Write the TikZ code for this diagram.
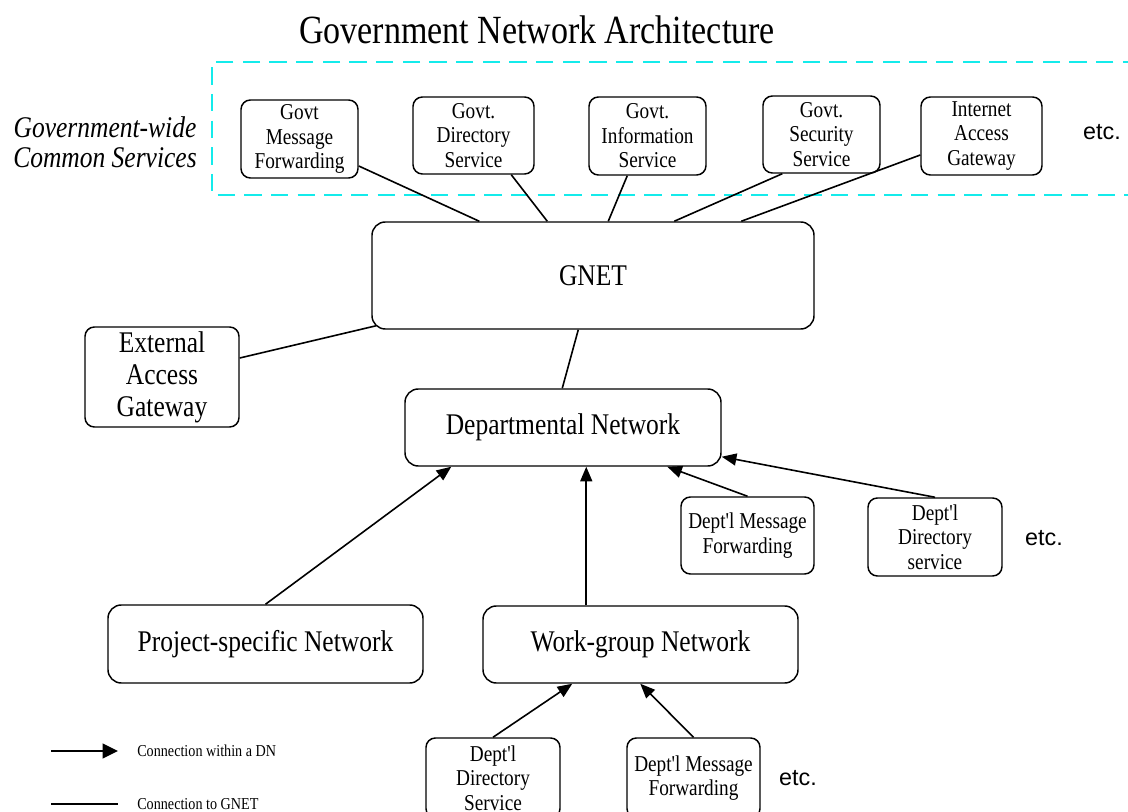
\documentclass[tikz,border=0pt]{standalone}
\usepackage{fontspec}
\setmainfont{Liberation Serif}
\newfontfamily\lab[FakeStretch=0.85]{Liberation Serif}
\newfontfamily\etcfont{Liberation Sans}
\usetikzlibrary{arrows.meta,calc}
\def\px{0.75pt}
\definecolor{dashcyan}{RGB}{20,235,235}
\begin{document}
\begin{tikzpicture}[x=0.75pt,y=-0.75pt,
  box/.style={draw, line width=1.1pt, rounded corners=7pt, align=center, inner sep=0pt,
    font=\lab\fontsize{17}{18.4}\selectfont},
  bigbox/.style={box, rounded corners=10pt, font=\lab\fontsize{22.5}{24}\selectfont},
  conn/.style={line width=1.2pt},
  arr/.style={conn, -{Triangle[length=11pt,width=9pt]}},
  etc/.style={font=\etcfont\fontsize{17.5}{20}\selectfont},
  legend/.style={anchor=west, inner sep=0pt, font=\lab\fontsize{12.5}{14}\selectfont}]
\useasboundingbox (0,0) rectangle (1128,812);
\clip (0,0) rectangle (1128,812);

% title
\node[font=\lab\fontsize{30}{32}\selectfont] (title) at (537,30) {Government Network Architecture};

% dashed common services region
\draw[dashcyan, line width=1.5pt, dash pattern=on 13pt off 7pt] (1140,62) -- (212,62) -- (212,195) -- (1140,195);
\node[font=\lab\itshape\fontsize{22.5}{22.5}\selectfont, align=center] (gw) at (105,142) {Government-wide\\Common Services};

% top services
\node[box, minimum width=117*\px, minimum height=78*\px] (gmf) at (299.5,139) {Govt\\Message\\Forwarding};
\node[box, minimum width=121*\px, minimum height=77*\px] (gds) at (473.5,135.5) {Govt.\\Directory\\Service};
\node[box, minimum width=117*\px, minimum height=78*\px] (gis) at (647.5,136) {Govt.\\Information\\Service};
\node[box, minimum width=117*\px, minimum height=77*\px] (gss) at (821.5,134.5) {Govt.\\Security\\Service};
\node[box, minimum width=121*\px, minimum height=78*\px] (iag) at (981.5,136) {Internet\\Access\\Gateway};
\node[etc] (etc1) at (1102,132) {etc.};

% main networks
\node[bigbox, minimum width=442*\px, minimum height=107*\px] (gnet) at (593,275.5) {GNET};
\node[bigbox, rounded corners=7pt, minimum width=154*\px, minimum height=100*\px] (eag) at (162,377) {External\\Access\\Gateway};
\node[bigbox, minimum width=316*\px, minimum height=77*\px] (dn) at (563,427.5) {Departmental Network};
\node[box, minimum width=133*\px, minimum height=77*\px] (dmf) at (747.5,535.5) {Dept'l Message\\Forwarding};
\node[box, minimum width=134*\px, minimum height=78*\px] (dds) at (935,537) {Dept'l\\Directory\\service};
\node[etc] (etc2) at (1044,538) {etc.};
\node[bigbox, minimum width=315*\px, minimum height=78*\px] (psn) at (265.5,644) {Project-specific Network};
\node[bigbox, minimum width=315*\px, minimum height=77*\px] (wgn) at (640.5,644.5) {Work-group Network};
\node[box, minimum width=134*\px, minimum height=80*\px] (bdds) at (493,778) {Dept'l\\Directory\\Service};
\node[box, minimum width=133*\px, minimum height=80*\px] (bdmf) at (693.5,778) {Dept'l Message\\Forwarding};
\node[etc] (etc3) at (798,778) {etc.};

% connections to GNET
\draw[conn] ([yshift=-27*\px]gmf.east) -- ([xshift=108*\px]gnet.north west);
\draw[conn] ([xshift=99*\px]gds.south west) -- ([xshift=176*\px]gnet.north west);
\draw[conn] ([xshift=39*\px]gis.south west) -- ([xshift=237*\px]gnet.north west);
\draw[conn] ([xshift=20*\px]gss.south west) -- ([xshift=303*\px]gnet.north west);
\draw[conn] ([yshift=-19*\px]iag.west) -- ([xshift=370*\px]gnet.north west);
\draw[conn] ([yshift=19*\px]eag.east) -- ([xshift=5*\px,yshift=4*\px]gnet.south west);
\draw[conn] ([xshift=207*\px]gnet.south west) -- ([xshift=158*\px]dn.north west);

% connections within DN
\draw[arr] (psn.north) -- ([xshift=47*\px]dn.south west);
\draw[arr] ([xshift=104*\px]wgn.north west) -- ([xshift=182*\px]dn.south west);
\draw[arr] (dmf.north) -- ([xshift=263*\px]dn.south west);
\draw[arr] (dds.north) -- ([yshift=10*\px]dn.south east);
\draw[arr] (bdds.north) -- ([xshift=90*\px]wgn.south west);
\draw[arr] (bdmf.north) -- ([xshift=158*\px]wgn.south west);

% legend
\coordinate (la1) at (51,751);
\coordinate (la2) at (118,751);
\coordinate (lb1) at (51,804);
\coordinate (lb2) at (118,804);
\draw[conn, -{Triangle[length=11.5pt,width=11pt]}] (la1) -- (la2);
\draw[conn] (lb1) -- (lb2);
\node[legend] (lt1) at (137,751) {Connection within a DN};
\node[legend] (lt2) at (137,804) {Connection to GNET};
\end{tikzpicture}
\end{document}
